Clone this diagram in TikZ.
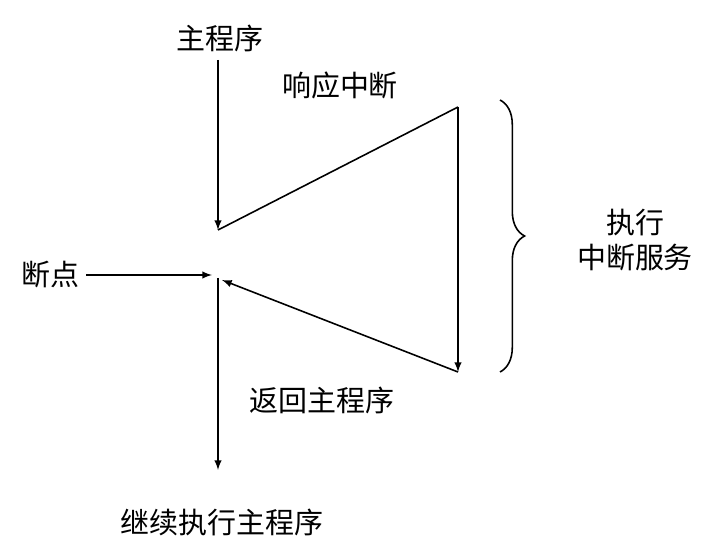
\documentclass[tikz,border=0pt]{standalone}
\usepackage{fontspec}
\newfontfamily\cjk{Noto Sans CJK SC}
\usetikzlibrary{calc,decorations.pathreplacing}
\begin{document}
\begin{tikzpicture}[x=0.02cm,y=-0.02cm,
    lbl/.style={font=\cjk\fontsize{16.5}{20}\selectfont,inner sep=1pt},
    flow/.style={line width=0.9pt,-latex}]
      \useasboundingbox (0,0) rectangle (724,560);
      \node [lbl] (main) at (220,38) {主程序};
      \node [lbl] (resp) at (340,85) {响应中断};
      \node [lbl] (bp) at (50,275) {断点};
      \node [lbl] (ret) at (322,400) {返回主程序};
      \node [lbl] (cont) at (222,522) {继续执行主程序};
      \node [lbl,align=center] (serv) at (635,240) {执行\\中断服务};
      \coordinate (a) at (218,230);
      \coordinate (top) at (458,107);
      \coordinate (bot) at (458,372);
      \coordinate (b) at (222,280);
      \coordinate (c) at (212,275);
      \coordinate (d) at (218,278);
      \coordinate (e) at (218,470);
      \draw [flow] (218,60) -- (a);
      \draw [line width=0.9pt] (a) -- (top);
      \draw [flow] (top) -- (bot);
      \draw [flow] (bot) -- (b);
      \draw [flow] (bp.east) ++(5,0) -- (c);
      \draw [flow] (d) -- (e);
      \draw [line width=0.9pt,decorate,
             decoration={brace,amplitude=14pt}] (500,100) -- (500,372);
\end{tikzpicture}
\end{document}
